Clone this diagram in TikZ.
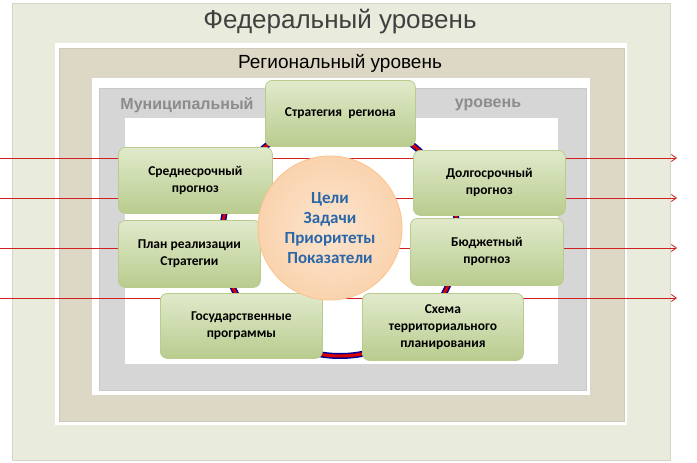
\documentclass[tikz,border=0pt]{standalone}
\usepackage{fontspec}
\setmainfont{Liberation Sans}
\newfontfamily\calib{Carlito}
\usetikzlibrary{arrows.meta}
\definecolor{fedc}{HTML}{E9ECDD}
\definecolor{regc}{HTML}{DDD8C6}
\definecolor{munc}{HTML}{D6D6D6}
\definecolor{boxc}{HTML}{D3E1B5}
\definecolor{boxd}{HTML}{B9CC8E}
\definecolor{peach}{HTML}{FAD3AE}
\definecolor{goalc}{HTML}{2A67A8}
\definecolor{arr}{HTML}{D02020}
\begin{document}
\begin{tikzpicture}[x=1pt,y=-1pt,
  gbox/.style={draw=boxd,line width=0.8pt,rounded corners=7pt,top color=boxc!70!white,bottom color=boxd,
    font=\calib\bfseries\fontsize{13.5}{17}\selectfont,align=center,anchor=north west,inner sep=0pt},
  rline/.style={draw=arr,line width=0.8pt},
  rarrow/.style={rline,-{Straight Barb[length=5pt,width=7pt]}}]
\useasboundingbox (0,0) rectangle (697,463);
\fill[white] (0,0) rectangle (697,463);
% federal
\filldraw[fill=fedc,draw=fedc!80!gray] (12,3) rectangle (670,460);
\fill[white] (55,43) rectangle (627,425);
% regional
\filldraw[fill=regc,draw=regc!85!gray] (59,48) rectangle (624,421);
\fill[white] (92,78) rectangle (590,395);
% municipal
\filldraw[fill=munc,draw=munc!85!gray] (99,88) rectangle (586,390);
\fill[white] (125,118) rectangle (558,364);
\node[font=\fontsize{26}{28}\selectfont,text=black!75] (fed) at (340,22) {Федеральный уровень};
\node[font=\fontsize{19}{21}\selectfont] (reg) at (340,63) {Региональный уровень};
\node[font=\bfseries\fontsize{16}{18}\selectfont,text=black!45] (mun1) at (187,105) {Муниципальный};
\node[font=\bfseries\fontsize{16}{18}\selectfont,text=black!45] (mun2) at (488,105) {уровень};
% ring
\draw[draw=blue!60!black,line width=6pt] (340,238) circle (118);
\draw[draw=red!85!black,line width=3pt] (340,238) circle (118);
% red lines
\coordinate (l1) at (0,158); \coordinate (r1) at (677,158);
\coordinate (l2) at (0,198); \coordinate (r2) at (677,198);
\coordinate (l3) at (0,248); \coordinate (r3) at (677,248);
\coordinate (l4) at (0,298); \coordinate (r4) at (677,298);
\draw[rarrow] (l1) -- (r1);
\draw[rarrow] (l2) -- (r2);
\draw[rarrow] (l3) -- (r3);
\draw[rarrow] (l4) -- (r4);
% boxes
\node[gbox,minimum width=150pt,minimum height=66pt] (strat) at (265,80) {Стратегия\ \ региона};
\node[gbox,minimum width=154pt,minimum height=66pt] (mid) at (118,147) {Среднесрочный\\прогноз};
\node[gbox,minimum width=152pt,minimum height=65pt] (long) at (413,150) {Долгосрочный\\прогноз};
\node[gbox,minimum width=142pt,minimum height=67pt] (plan) at (118,220) {План реализации\\Стратегии};
\node[gbox,minimum width=153pt,minimum height=67pt] (budg) at (410,218) {Бюджетный\\прогноз};
\node[gbox,minimum width=162pt,minimum height=65pt] (gos) at (160,293) {Государственные\\программы};
\node[gbox,minimum width=161pt,minimum height=67pt] (schem) at (362,293) {Схема\\территориального\\планирования};
% goal circle
\node[circle,draw=peach!80!orange,line width=0.8pt,inner color=peach!60!white,outer color=peach,minimum size=144pt,
  font=\calib\bfseries\fontsize{17}{20}\selectfont,text=goalc,align=center] (goal) at (330,228)
  {Цели\\Задачи\\Приоритеты\\Показатели};
\end{tikzpicture}
\end{document}
